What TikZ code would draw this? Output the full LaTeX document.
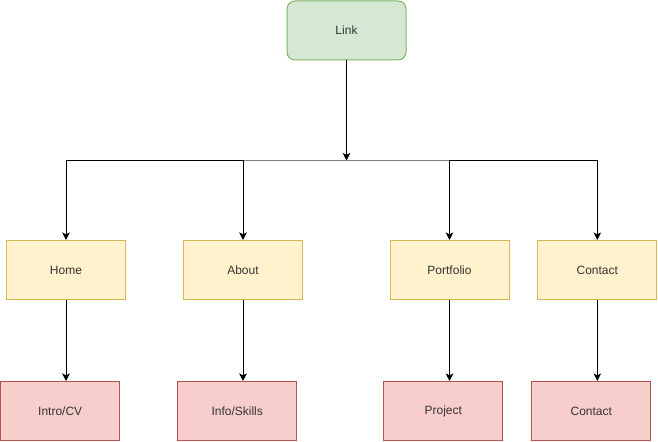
\documentclass[tikz,border=0pt]{standalone}
\usepackage{fontspec}
\setmainfont{Liberation Sans}
\usepackage{tikz}
\usetikzlibrary{shapes.geometric, arrows, arrows.meta}
\usetikzlibrary{positioning}
\definecolor{greenFill}{HTML}{D5E8D4}
\definecolor{greenLine}{HTML}{82B366}
\definecolor{yellowFill}{HTML}{FFF2CC}
\definecolor{yellowLine}{HTML}{D6B656}
\definecolor{redFill}{HTML}{F8CECC}
\definecolor{redLine}{HTML}{B85450}
\definecolor{textGray}{HTML}{333333}
\tikzstyle{box} = [rectangle, minimum width=89.25pt, minimum height=44.25pt, text centered, line width=0.75pt, font=\fontsize{9}{11}\selectfont, text=textGray]
\tikzstyle{linkNode} = [box, rounded corners=6pt, fill=greenFill, draw=greenLine]
\tikzstyle{pageNode} = [box, fill=yellowFill, draw=yellowLine]
\tikzstyle{contentNode} = [box, fill=redFill, draw=redLine]
\tikzstyle{arrow} = [line width=0.75pt,->,>={Stealth[length=5.6pt, width=5.6pt, inset=1.3pt]}]
\tikzstyle{busLine} = [line width=0.75pt, draw=gray]

\begin{document}
\begin{tikzpicture}[x=0.75pt, y=-0.75pt]
                                \useasboundingbox (0,0) rectangle (658,442);
                                \node (link) [linkNode] at (346.5,30.5) {Link};
                                \node (home) [pageNode] at (66,270) {Home};
                                \node (about) [pageNode] at (243,270) {About};
                                \node (portfolio) [pageNode] at (449.5,270) {Portfolio};
                                \node (contact) [pageNode] at (597.3,270) {Contact};
                                \node (intro) [contentNode] at (60.2,411) {Intro/CV};
                                \node (info) [contentNode] at (237.2,411) {Info/Skills};
                                \node (project) [contentNode] at (443.3,411) {Project};
                                \node (contact2) [contentNode] at (591.3,411) {Contact};
                                \coordinate (bus) at (346.5,160.5);
                                \draw [busLine] (about.north |- bus) -- (portfolio.north |- bus);
                                \draw [arrow] (link) -- (bus);
                                \draw [arrow] (about.north |- bus) -| (home.north);
                                \draw [arrow] (portfolio.north |- bus) -| (contact.north);
                                \draw [arrow] (about.north |- bus) -- (about.north);
                                \draw [arrow] (portfolio.north |- bus) -- (portfolio.north);
                                \draw [arrow] (home) -- (home.south |- intro.north);
                                \draw [arrow] (about) -- (about.south |- info.north);
                                \draw [arrow] (portfolio) -- (portfolio.south |- project.north);
                                \draw [arrow] (contact) -- (contact.south |- contact2.north);
                            \end{tikzpicture}
\end{document}
